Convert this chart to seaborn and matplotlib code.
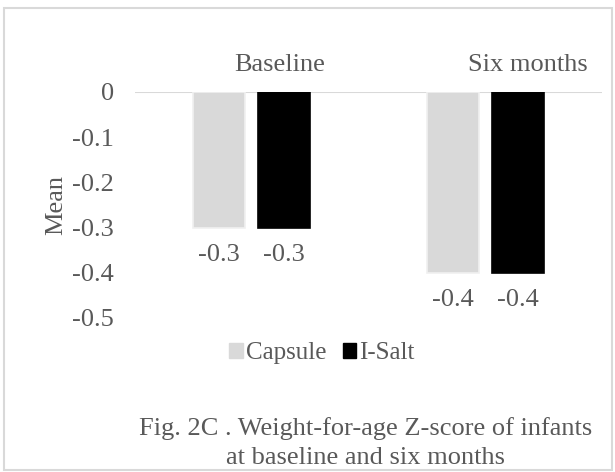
import matplotlib
matplotlib.use("Agg")
import matplotlib.pyplot as plt
import matplotlib.transforms as mtransforms
import seaborn as sns
import pandas as pd
from matplotlib.patches import Rectangle, Patch

# ---- data ----
periods = ["Baseline", "Six months"]
groups = ["Capsule", "I-Salt"]
capsule_vals = [-0.3, -0.4]
isalt_vals = [-0.3, -0.4]
y_ticks = [0, -0.1, -0.2, -0.3, -0.4, -0.5]
y_tick_labels = ["0", "-0.1", "-0.2", "-0.3", "-0.4", "-0.5"]
caption = "Fig. 2C . Weight-for-age Z-score of infants\nat baseline and six months"

df = pd.DataFrame({
    "period": periods * 2,
    "group": [groups[0]] * len(periods) + [groups[1]] * len(periods),
    "value": capsule_vals + isalt_vals,
})

sns.set_theme(style="white")
plt.rcParams["font.family"] = ["Liberation Serif", "DejaVu Serif"]
plt.rcParams["axes.unicode_minus"] = False

TXT = "#595959"
FS = 19

W, H = 615, 472
fig = plt.figure(figsize=(W / 100, H / 100), dpi=100)
ax = fig.add_axes([135 / W, 1 - 318 / H, (602 - 135) / W, (318 - 92) / H])

palette = {"Capsule": "#d9d9d9", "I-Salt": "#000000"}
sns.barplot(data=df, x="period", y="value", hue="group", order=periods,
            hue_order=groups, palette=palette, width=0.557, gap=0.2,
            ax=ax, legend=False, saturation=1)

for patch, ec in zip(ax.patches, ["#f0f0f0"] * 2 + ["#000000"] * 2):
    patch.set_edgecolor(ec)
    patch.set_linewidth(1.2)

for cont in ax.containers:
    ax.bar_label(cont, fmt="%.1f", padding=12, fontsize=FS, color=TXT)

ax.set_ylim(-0.5, 0)
ax.set_xlim(-0.5, 1.5)
ax.set_yticks(y_ticks)
ax.set_yticklabels(y_tick_labels)
ax.tick_params(axis="y", length=0, pad=15, labelsize=FS, labelcolor=TXT)
ax.set_xticks([])
ax.set_xlabel("")
ax.set_ylabel("Mean", fontsize=FS, color=TXT, labelpad=4)
for s in ax.spines.values():
    s.set_visible(False)
ax.axhline(0, color="#d9d9d9", lw=1.5, zorder=0)

# category labels above the axis
trans = mtransforms.blended_transform_factory(ax.transData, fig.transFigure)
for i, p in enumerate(periods):
    ax.text(i - 0.075, 1 - 65 / H, p, transform=trans,
            ha="left", va="center", fontsize=FS, color=TXT)

# legend
handles = [Patch(facecolor=palette[g], edgecolor=palette[g]) for g in groups]
fig.legend(handles, groups, loc="center", bbox_to_anchor=(322 / W, 1 - 353 / H),
           ncol=2, frameon=False, fontsize=18, labelcolor=TXT,
           handlelength=0.55, handleheight=0.55, handletextpad=0.12,
           columnspacing=0.65)

fig.text(366 / W, 1 - 443 / H, caption, ha="center", va="center",
         fontsize=FS, color=TXT, linespacing=1.42)

fig.add_artist(Rectangle((4 / W, 1 - 470 / H), (612 - 4) / W, (470 - 8) / H,
                         transform=fig.transFigure, fill=False,
                         edgecolor="#d9d9d9", lw=1.5))

fig.savefig("out.png", dpi=100)
